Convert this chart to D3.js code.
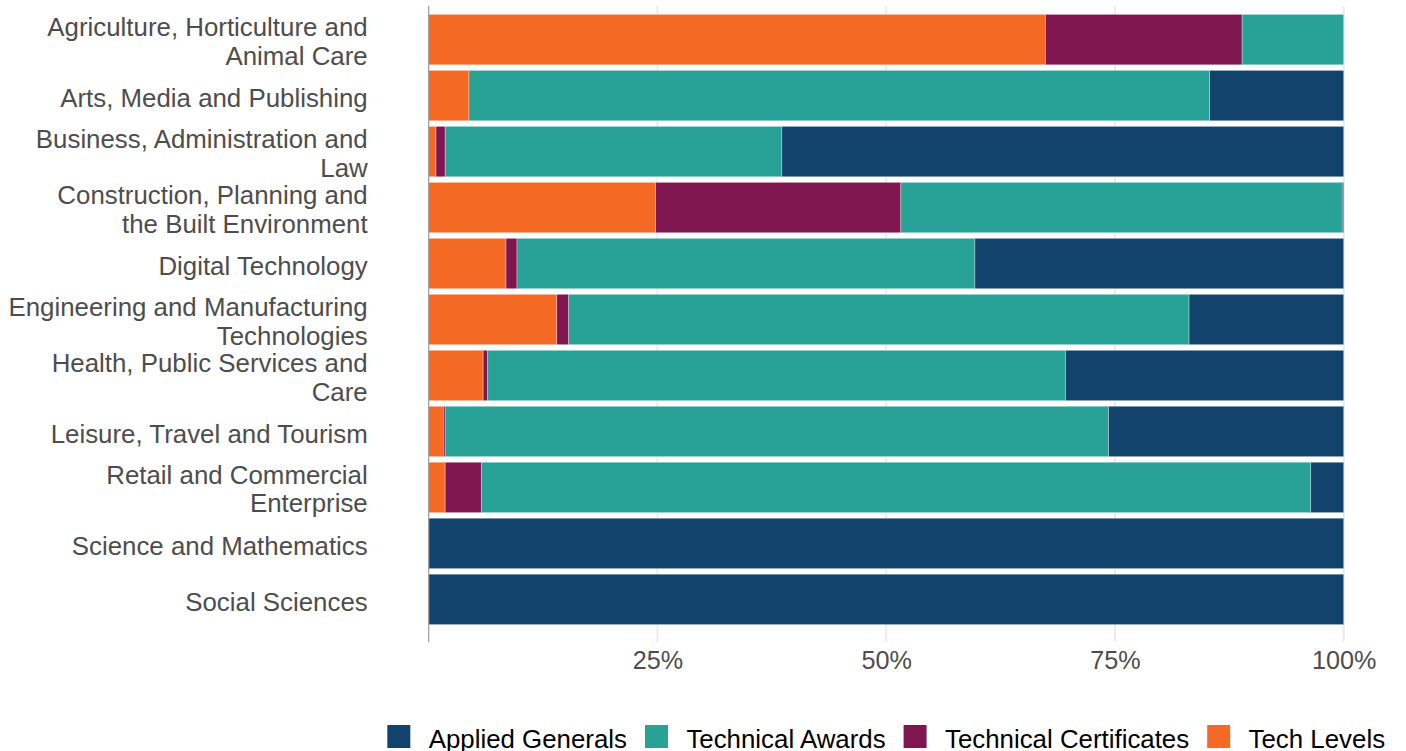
<!DOCTYPE html>
<html>
<head>
<meta charset="utf-8">
<script src="https://cdn.jsdelivr.net/npm/d3@7"></script>
<style>
  html, body { margin: 0; padding: 0; background: #ffffff; }
  svg { display: block; font-family: "Liberation Sans", Arial, sans-serif; }
</style>
</head>
<body>
<svg id="chart" width="1406" height="751"></svg>
<script>
// ---- data ----
const categories = [
  "Agriculture, Horticulture and Animal Care",
  "Arts, Media and Publishing",
  "Business, Administration and Law",
  "Construction, Planning and the Built Environment",
  "Digital Technology",
  "Engineering and Manufacturing Technologies",
  "Health, Public Services and Care",
  "Leisure, Travel and Tourism",
  "Retail and Commercial Enterprise",
  "Science and Mathematics",
  "Social Sciences"
];
const series = ["Applied Generals", "Technical Awards", "Technical Certificates", "Tech Levels"];
const appliedGenerals      = [0,    14.65, 61.4, 0.15, 40.3,  16.9, 30.4,  25.7, 3.6,   100, 100];
const technicalAwards      = [11.1, 80.95, 36.8, 48.25, 50.05, 67.8, 63.15, 72.5, 90.65, 0,   0];
const technicalCertificates= [21.5, 0,     1.0,  26.8, 1.2,   1.3,  0.5,   0.2,  3.95,  0,   0];
const techLevels           = [67.4, 4.4,   0.8,  24.8, 8.45,  14.0, 5.95,  1.6,  1.8,   0,   0];
const tickValues = [0.25, 0.5, 0.75, 1];
const tickLabels = ["25%", "50%", "75%", "100%"];
const colors = ["#12436D", "#28A197", "#801650", "#F46A25"];

// ---- layout ----
const svg = d3.select("#chart");
const panel = { left: 428.7, right: 1343.7, top: 6, bottom: 633 };

const rows = categories.map((c, i) => ({
  category: c,
  "Applied Generals": appliedGenerals[i] / 100,
  "Technical Awards": technicalAwards[i] / 100,
  "Technical Certificates": technicalCertificates[i] / 100,
  "Tech Levels": techLevels[i] / 100
}));

const x = d3.scaleLinear().domain([0, 1]).range([panel.left, panel.right]);
const y = d3.scaleBand().domain(categories).range([panel.top, panel.bottom])
  .paddingInner(0.1).paddingOuter(0.15);
const color = d3.scaleOrdinal().domain(series).range(colors);

// stack order: Tech Levels leftmost
const stackKeys = series.slice().reverse();
const stacked = d3.stack().keys(stackKeys)(rows);

// gridlines (incl. tick extension)
svg.append("g").selectAll("line").data(tickValues).join("line")
  .attr("x1", d => x(d)).attr("x2", d => x(d))
  .attr("y1", panel.top).attr("y2", panel.bottom + 9)
  .attr("stroke", "#EBEBEB").attr("stroke-width", 2);

// bars
svg.append("g").selectAll("g").data(stacked).join("g")
  .attr("fill", d => color(d.key))
  .selectAll("rect").data(d => d.filter(s => s[1] - s[0] > 0)).join("rect")
  .attr("x", d => x(d[0]))
  .attr("width", d => x(d[1]) - x(d[0]))
  .attr("y", d => y(d.data.category))
  .attr("height", y.bandwidth())
  .attr("stroke", "#ffffff").attr("stroke-opacity", 0.45).attr("stroke-width", 0.7);

// left axis line
svg.append("line")
  .attr("x1", x(0)).attr("x2", x(0))
  .attr("y1", panel.top).attr("y2", panel.bottom + 9)
  .attr("stroke", "#9a9a9a").attr("stroke-width", 1.2);

// x tick labels
const xAxis = d3.axisBottom(x).tickValues(tickValues)
  .tickFormat((d, i) => tickLabels[i]).tickSize(0).tickPadding(0);
const gx = svg.append("g").attr("transform", `translate(0,${panel.bottom})`).call(xAxis);
gx.select(".domain").remove();
gx.selectAll("text")
  .attr("y", 36).attr("dy", null)
  .attr("font-family", "Liberation Sans, Arial, sans-serif")
  .attr("font-size", "25.2px").attr("fill", "#4D4D4D");

// y labels (wrapped ~29 chars)
function wrap(s, w) {
  const words = s.split(" "); const lines = []; let cur = "";
  words.forEach(wd => {
    const t = cur ? cur + " " + wd : wd;
    if (t.length > w && cur) { lines.push(cur); cur = wd; } else cur = t;
  });
  if (cur) lines.push(cur);
  return lines;
}
const lh = 28.3;
const yl = svg.append("g");
categories.forEach(c => {
  const lines = wrap(c, 29);
  const cy = y(c) + y.bandwidth() / 2;
  const first = cy + 11.2 - (lines.length - 1) * lh / 2 - (lines.length > 1 ? 0.3 : 0);
  const t = yl.append("text")
    .attr("text-anchor", "end")
    .attr("font-size", "25.85px").attr("fill", "#4D4D4D");
  lines.forEach((ln, i) => {
    t.append("tspan").attr("x", 367.7).attr("y", first + i * lh).text(ln);
  });
});

// legend
const leg = svg.append("g");
const keyW = 23, gapKT = 18.4, gapTK = 18;
let lx = 0;
series.forEach(s => {
  const g = leg.append("g");
  g.append("rect").attr("x", lx).attr("y", 725).attr("width", keyW).attr("height", 23)
    .attr("fill", color(s));
  const t = g.append("text").attr("x", lx + keyW + gapKT).attr("y", 747.8)
    .attr("font-size", "25.85px").attr("fill", "#000000").text(s);
  lx += keyW + gapKT + t.node().getComputedTextLength() + gapTK;
});
const totalW = lx - gapTK;
const cx = (panel.left + panel.right) / 2;
leg.attr("transform", `translate(${cx - totalW / 2},0)`);
</script>
</body>
</html>
